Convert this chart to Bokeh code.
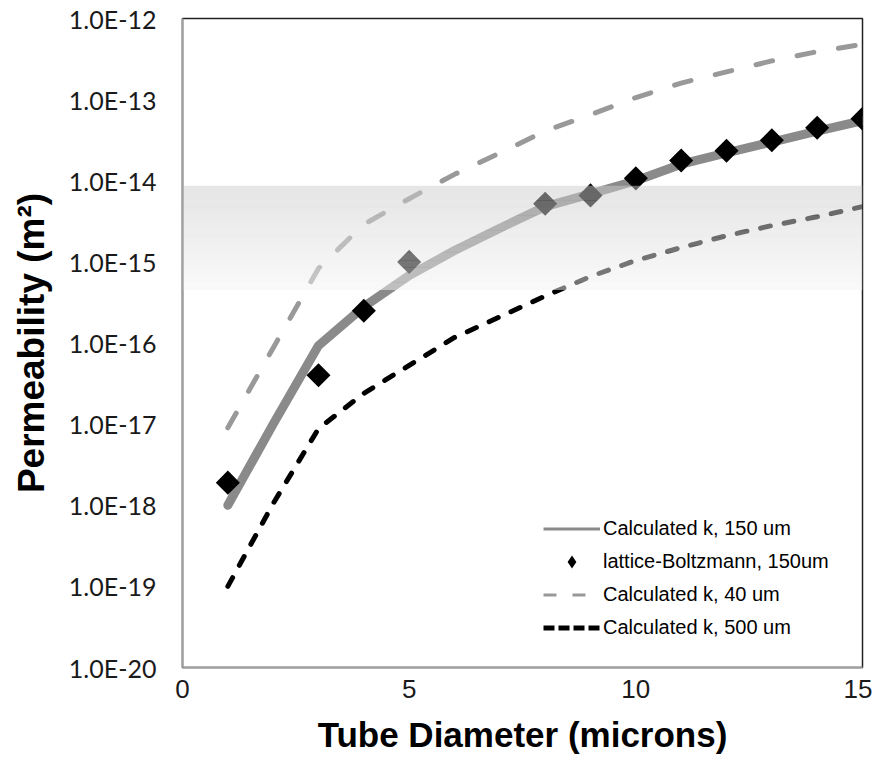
import numpy as np
from bokeh.plotting import figure
from bokeh.models import FixedTicker, CustomJSTickFormatter, Legend, LegendItem
from bokeh.embed import file_html
from bokeh.resources import INLINE

# ---- data ----
x_calc = [1, 2, 3, 4, 5, 6, 7, 8, 9, 10, 11, 12, 13, 14, 15]
k_150 = [1.0e-18, 1.0e-17, 9.3e-17, 2.8e-16, 6.8e-16, 1.38e-15, 2.6e-15, 4.8e-15,
         6.9e-15, 1.0e-14, 1.6e-14, 2.2e-14, 3.0e-14, 4.1e-14, 5.5e-14]
k_40 = [9.0e-18, 8.7e-17, 8.3e-16, 2.9e-15, 6.0e-15, 1.2e-14, 2.2e-14, 4.1e-14,
        6.5e-14, 1.06e-13, 1.6e-13, 2.2e-13, 3.0e-13, 3.9e-13, 4.8e-13]
k_500 = [1.0e-19, 1.05e-18, 8.8e-18, 2.4e-17, 5.3e-17, 1.17e-16, 2.1e-16, 3.8e-16,
         6.6e-16, 1.04e-15, 1.5e-15, 2.1e-15, 2.8e-15, 3.6e-15, 4.8e-15]
x_lb = [1, 3, 4, 5, 8, 9, 10, 11, 12, 13, 14, 15]
k_lb = [1.9e-18, 4.0e-17, 2.5e-16, 1.0e-15, 5.2e-15, 6.6e-15, 1.07e-14, 1.78e-14,
        2.35e-14, 3.15e-14, 4.5e-14, 5.8e-14]
band_low, band_high = 4.5e-16, 8.7e-15
x_ticks = [0, 5, 10, 15]
y_ticks = [1e-20, 1e-19, 1e-18, 1e-17, 1e-16, 1e-15, 1e-14, 1e-13, 1e-12]
labels = ["Calculated k, 150 um", "lattice-Boltzmann, 150um",
          "Calculated k, 40 um", "Calculated k, 500 um"]

p = figure(width=872, height=767, y_axis_type="log",
           x_range=(0, 15), y_range=(1e-20, 1e-12),
           output_backend="svg", toolbar_location=None,
           min_border_left=182, min_border_right=10,
           min_border_top=18, min_border_bottom=100)
p.background_fill_color = "white"
p.border_fill_color = "white"
p.xgrid.visible = False
p.ygrid.visible = False
p.outline_line_color = "#222222"
p.outline_line_width = 1.5

# ---- series ----
r40 = p.line(x_calc, k_40, line_color="#999999", line_width=5,
             line_dash="17 25", line_cap="round")
r500 = p.line(x_calc, k_500, line_color="black", line_width=5,
              line_dash="10 14", line_cap="round")
r150 = p.line(x_calc, k_150, line_color="#8a8a8a", line_width=9,
              line_cap="round", line_join="round")
rlb = p.scatter(x_lb, k_lb, marker="square", size=17, angle=np.pi / 4,
                fill_color="black", line_color=None)

# ---- translucent gradient band (drawn on top) ----
n = 14
edges = np.logspace(np.log10(band_low), np.log10(band_high), n + 1)
shades = np.linspace(243, 205, n).astype(int)
colors = ["#%02x%02x%02x" % (s, s, s) for s in shades]
p.quad(left=0, right=15, bottom=edges[:-1], top=edges[1:],
       fill_color=colors, fill_alpha=0.5, line_color=None)

# ---- legend proxies ----
nan = [float("nan")]
g150 = p.line(nan, nan, line_color="#8a8a8a", line_width=3)
glb = p.scatter(nan, nan, marker="diamond", size=9,
                fill_color="black", line_color=None)
g40 = p.line(nan, nan, line_color="#999999", line_width=3, line_dash="13 16")
g500 = p.line(nan, nan, line_color="black", line_width=5, line_dash="11 4")
legend = Legend(items=[LegendItem(label=labels[0], renderers=[g150]),
                       LegendItem(label=labels[1], renderers=[glb]),
                       LegendItem(label=labels[2], renderers=[g40]),
                       LegendItem(label=labels[3], renderers=[g500])],
                location=(361, 23), padding=0, margin=0, spacing=0,
                glyph_width=57, glyph_height=33, label_height=33,
                label_standoff=3, background_fill_alpha=0,
                border_line_color=None,
                label_text_font="Liberation Sans", label_text_font_size="20px",
                label_text_color="black")
p.add_layout(legend)

# ---- axes ----
p.xaxis.ticker = FixedTicker(ticks=x_ticks)
p.yaxis.ticker = FixedTicker(ticks=y_ticks)
p.yaxis.formatter = CustomJSTickFormatter(
    code="return '1.0E' + Math.round(Math.log10(tick)).toString();")
for ax in (p.xaxis, p.yaxis):
    ax.major_tick_line_color = None
    ax.minor_tick_line_color = None
    ax.major_tick_out = 0
    ax.major_tick_in = 0
    ax.axis_line_color = "#a0a0a0"
    ax.axis_line_width = 2
    ax.major_label_text_color = "#1a1a1a"
    ax.axis_label_text_color = "black"
    ax.axis_label_text_font = "Liberation Sans"
    ax.axis_label_text_font_style = "bold"

p.xaxis.axis_label = "Tube Diameter (microns)"
p.xaxis.axis_label_text_font_size = "35px"
p.xaxis.major_label_text_font = "Liberation Sans"
p.xaxis.major_label_text_font_size = "26px"
p.xaxis.major_label_standoff = 12
p.xaxis.axis_label_standoff = 14

p.yaxis.axis_label = "Permeability (m²)"
p.yaxis.axis_label_text_font_size = "37px"
p.yaxis.major_label_text_font = "Lato"
p.yaxis.major_label_text_font_size = "25px"
p.yaxis.major_label_standoff = 26
p.yaxis.axis_label_standoff = 14

open("out.html", "w").write(file_html(p, INLINE))
